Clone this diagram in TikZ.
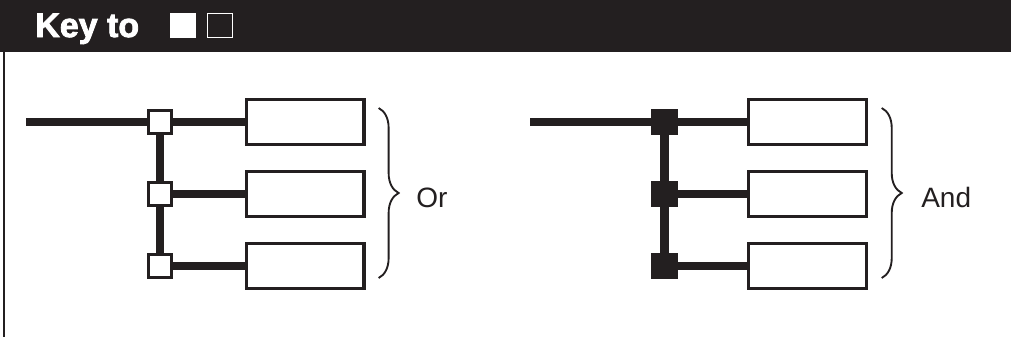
\documentclass[tikz,border=0pt]{standalone}
\usepackage{fontspec}
\setmainfont{Liberation Sans}
\newfontfamily\heavyfont[FakeBold=2.5]{Liberation Sans Bold}
\usepackage{xcolor}
\definecolor{cInk}{HTML}{231F20}
\usepackage{tikz}
\usetikzlibrary{positioning,calc,decorations.pathreplacing}
\tikzset{
  node-junc/.style={draw=cInk,line width=2.4pt,minimum size=17.25pt,inner sep=0pt},
  node-or/.style={node-junc,fill=white},
  node-and/.style={node-junc,fill=cInk},
  node-item/.style={draw=cInk,line width=2.4pt,minimum width=88pt,
    minimum height=34pt,inner sep=0pt},
  bus/.style={draw=cInk,line width=6.3pt},
  group-brace/.style={draw=cInk,line width=1.4pt,decorate,
    decoration={brace,amplitude=15pt}},
  key-label/.style={font=\fontsize{21}{25}\selectfont,text=cInk,
    anchor=base west,inner sep=0pt},
}

\begin{document}
\begin{tikzpicture}[x=0.75pt,y=-0.75pt]
  \useasboundingbox (0,0) rectangle (1011,337);
  % header bar
  \fill[cInk] (0,0) rectangle (1011,52);
  \draw[cInk,line width=1.8pt] (4,52) -- (4,337);
  \node[anchor=base west,inner sep=0pt,text=white,
    font=\fontsize{25.5}{30}\selectfont\heavyfont] (title) at (35,37) {Key to};
  \node[fill=white,minimum size=19pt,inner sep=0pt] (kfill) at (183,25.5) {};
  \node[draw=white,line width=0.8pt,minimum size=18.5pt,inner sep=0pt]
    (kopen) at (220,25.5) {};

  % Or
  \coordinate (oin) at (26,122);
  \node[node-or] (oj1) at (160,122) {};
  \node[node-or,below=34.35pt of oj1] (oj2) {};
  \node[node-or,below=34.35pt of oj2] (oj3) {};
  \node[node-item,right=54pt of oj1] (or1) {};
  \node[node-item,right=54pt of oj2] (or2) {};
  \node[node-item,right=54pt of oj3] (or3) {};
  \draw[bus] (oin) -- (oj1);
  \draw[bus] (oj1) -- (oj2);
  \draw[bus] (oj2) -- (oj3);
  \draw[bus] (oj1) -- (or1);
  \draw[bus] (oj2) -- (or2);
  \draw[bus] (oj3) -- (or3);
  \coordinate (obt) at ($(or1.east)+(13,-14)$);
  \coordinate (obb) at ($(or3.east)+(13,12)$);
  \draw[group-brace] (obt) -- (obb);
  \node[key-label] (orlabel) at (416,207) {Or};

  % And
  \coordinate (ain) at (530,122);
  \node[node-and] (aj1) at (664.5,122) {};
  \node[node-and,below=34.35pt of aj1] (aj2) {};
  \node[node-and,below=34.35pt of aj2] (aj3) {};
  \node[node-item,right=52.2pt of aj1] (ar1) {};
  \node[node-item,right=52.2pt of aj2] (ar2) {};
  \node[node-item,right=52.2pt of aj3] (ar3) {};
  \draw[bus] (ain) -- (aj1);
  \draw[bus] (aj1) -- (aj2);
  \draw[bus] (aj2) -- (aj3);
  \draw[bus] (aj1) -- (ar1);
  \draw[bus] (aj2) -- (ar2);
  \draw[bus] (aj3) -- (ar3);
  \coordinate (abt) at ($(ar1.east)+(14,-14)$);
  \coordinate (abb) at ($(ar3.east)+(14,12)$);
  \draw[group-brace] (abt) -- (abb);
  \node[key-label] (andlabel) at (921,207) {And};
\end{tikzpicture}
\end{document}
